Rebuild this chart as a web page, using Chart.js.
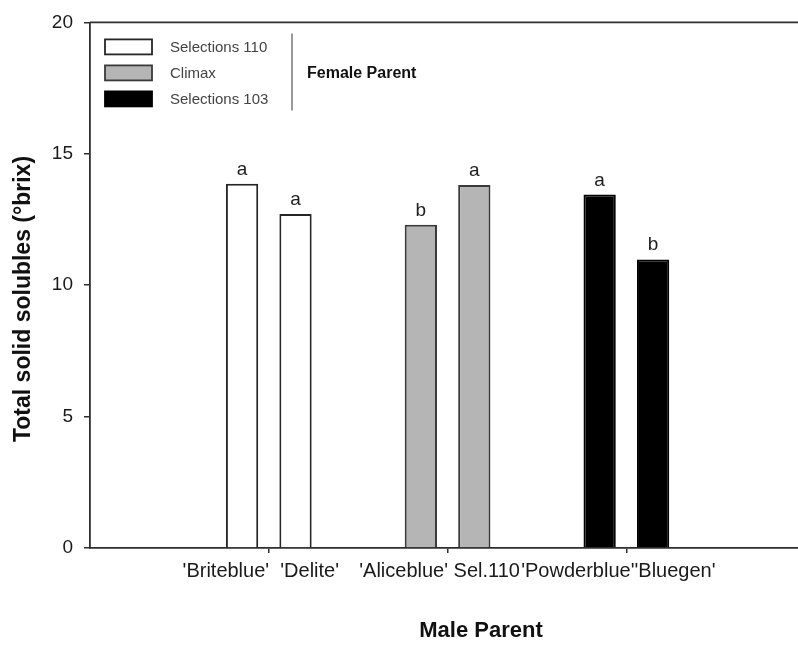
<!DOCTYPE html>
<html>

<head>
    <title>Total solid solubles</title>
    <meta charset="utf-8">
    <script src="https://cdnjs.cloudflare.com/ajax/libs/Chart.js/4.4.1/chart.umd.min.js"></script>
    <style>
        body {
            background: #fff;
            margin: 0;
        }

        .wrap {
            width: 798px;
            height: 645px;
            position: relative;
        }
    </style>
</head>

<body>
    <div class="wrap"><canvas id="brix-Chart"></canvas></div>
    <script>
        // data
        const femaleParents = ['Selections 110', 'Climax', 'Selections 103'];
        const groupPos = [1, 2, 3];
        const maleFirst = ["'Briteblue'", "'Aliceblue'", "'Powderblue'"];
        const maleSecond = ["'Delite'", "Sel.110", "'Bluegen'"];
        const brixFirst = [13.86, 12.30, 13.45];
        const brixSecond = [12.71, 13.81, 10.98];
        const letterFirst = ['a', 'b', 'a'];
        const letterSecond = ['a', 'a', 'b'];
        const yTicks = [0, 5, 10, 15, 20];

        const femaleColors = ['#ffffff', '#b5b5b5', '#000000'];
        const femaleBorders = ['#262626', '#3a3a3a', '#000000'];
        const labelGaps = ['  ', ' ', ''];
        const FONT = "'Liberation Sans', Arial, sans-serif";
        const AXIS = '#2e2e2e';

        const groupLabels = maleFirst.map((m, i) => m + labelGaps[i] + maleSecond[i]);

        function makeSet(name, values, letters) {
            return {
                label: name,
                data: groupPos.map((x, i) => ({ x: x, y: values[i] })),
                letters: letters,
                backgroundColor: femaleColors,
                borderColor: femaleBorders,
                borderWidth: 2,
                categoryPercentage: 0.598,
                barPercentage: 0.604
            };
        }

        // top frame line, legend box, letters and axis titles
        const extras = {
            id: 'extras',
            afterDatasetsDraw(chart) {
                const ctx = chart.ctx;
                ctx.save();
                ctx.fillStyle = '#1e1e1e';
                ctx.font = '19px ' + FONT;
                ctx.textAlign = 'center';
                ctx.textBaseline = 'alphabetic';
                chart.data.datasets.forEach((ds, di) => {
                    chart.getDatasetMeta(di).data.forEach((bar, i) => {
                        ctx.fillText(ds.letters[i], bar.x, bar.y - 9);
                    });
                });
                ctx.restore();
            },
            afterDraw(chart) {
                const ctx = chart.ctx, a = chart.chartArea;
                ctx.save();
                // top line
                ctx.strokeStyle = AXIS;
                ctx.lineWidth = 1.8;
                ctx.beginPath();
                ctx.moveTo(a.left, a.top);
                ctx.lineTo(a.right, a.top);
                ctx.stroke();

                // legend
                ctx.font = '15px ' + FONT;
                ctx.textBaseline = 'middle';
                ctx.textAlign = 'left';
                femaleParents.forEach((name, i) => {
                    const y = a.top + 17 + i * 26;
                    ctx.fillStyle = femaleColors[i];
                    ctx.fillRect(a.left + 15, y, 47, 15);
                    ctx.strokeStyle = femaleBorders[i];
                    ctx.lineWidth = 1.8;
                    ctx.strokeRect(a.left + 15, y, 47, 15);
                    ctx.fillStyle = '#444';
                    ctx.fillText(name, a.left + 80, y + 8);
                });
                ctx.strokeStyle = '#555';
                ctx.lineWidth = 1.2;
                ctx.beginPath();
                ctx.moveTo(a.left + 202, a.top + 11);
                ctx.lineTo(a.left + 202, a.top + 88);
                ctx.stroke();
                ctx.fillStyle = '#111';
                ctx.font = 'bold 16px ' + FONT;
                ctx.fillText('Female Parent', a.left + 217, a.top + 51);

                // axis titles
                ctx.font = 'bold 22px ' + FONT;
                ctx.textAlign = 'center';
                ctx.textBaseline = 'alphabetic';
                ctx.fillText('Male Parent', 481, 637);
                ctx.translate(30, 299);
                ctx.rotate(-Math.PI / 2);
                ctx.font = 'bold 23px ' + FONT;
                ctx.fillText('Total solid solubles (°brix)', 0, 0);
                ctx.restore();
            }
        };

        const config = {
            type: 'bar',
            data: {
                datasets: [
                    makeSet('First male', brixFirst, letterFirst),
                    makeSet('Second male', brixSecond, letterSecond)
                ]
            },
            options: {
                responsive: true,
                maintainAspectRatio: false,
                animation: false,
                layout: { padding: { top: 16, right: 0, left: 0, bottom: 0 } },
                plugins: {
                    legend: { display: false },
                    tooltip: { enabled: false }
                },
                scales: {
                    x: {
                        type: 'linear',
                        min: 0,
                        max: 3.96,
                        offset: false,
                        afterBuildTicks: (scale) => { scale.ticks = groupPos.map(v => ({ value: v })); },
                        afterFit: (scale) => { scale.height = 97; },
                        grid: { offset: false, drawOnChartArea: false, drawTicks: true, tickLength: 5, color: AXIS, lineWidth: 1.5 },
                        border: { color: AXIS, width: 1.8 },
                        ticks: {
                            autoSkip: false,
                            maxRotation: 0,
                            padding: 6,
                            labelOffset: -8,
                            color: '#1a1a1a',
                            font: { family: FONT, size: 20 },
                            callback: (v) => groupLabels[groupPos.indexOf(v)]
                        }
                    },
                    y: {
                        min: 0,
                        max: 20,
                        afterBuildTicks: (scale) => { scale.ticks = yTicks.map(v => ({ value: v })); },
                        afterFit: (scale) => { scale.width = 90; },
                        grid: { drawOnChartArea: false, drawTicks: true, tickLength: 6, color: AXIS, lineWidth: 1.5 },
                        border: { color: AXIS, width: 1.8 },
                        ticks: {
                            padding: 11,
                            color: '#1a1a1a',
                            font: { family: FONT, size: 19 }
                        }
                    }
                }
            },
            plugins: [extras]
        };

        var brixChart = new Chart(document.getElementById('brix-Chart'), config);
    </script>
</body>

</html>
